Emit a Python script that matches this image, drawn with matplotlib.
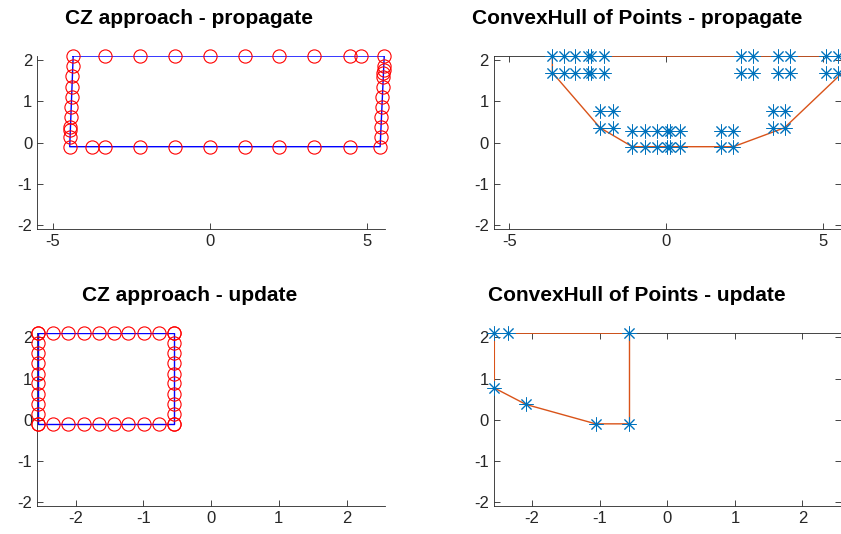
import numpy as np
import matplotlib
matplotlib.use("Agg")
import matplotlib.pyplot as plt

plt.rcParams['font.family'] = ['Liberation Sans', 'DejaVu Sans']
plt.rcParams['axes.unicode_minus'] = False

# CZ approach - propagate : rectangle and sample circles
cz_prop_rect_x = [-4.35, 5.54, 5.41, -4.46, -4.35]
cz_prop_rect_y = [2.1, 2.1, -0.1, -0.1, 2.1]
cz_prop_top_x = [-4.35, -3.34, -2.23, -1.11, 0.0, 1.11, 2.21, 3.32, 4.44, 4.81, 5.54]
cz_prop_bot_x = [-4.46, -3.74, -3.34, -2.23, -1.11, 0.0, 1.11, 2.21, 3.32, 4.44, 5.41]
cz_prop_left_y = [1.85, 1.61, 1.35, 1.1, 0.86, 0.62, 0.37, 0.30, 0.13]
cz_prop_right_y = [1.85, 1.76, 1.68, 1.59, 1.35, 1.1, 0.86, 0.62, 0.37, 0.13]

# ConvexHull of Points - propagate
hull_prop_pts_x = [-3.63, -3.25, -2.90, -2.50, -2.40, -1.98, 2.39, 2.78, 3.56, 3.93, 5.10, 5.47,
                   -3.63, -3.25, -2.90, -2.50, -2.40, -1.98, 2.39, 2.78, 3.56, 3.93, 5.10, 5.47,
                   -2.11, -1.69, 3.40, 3.77, -2.11, -1.69, 3.40, 3.77,
                   -1.08, -0.68, -0.28, 0.04, 0.12, 0.45, 1.75, 2.14,
                   -1.08, -0.68, -0.28, 0.04, 0.12, 0.45, 1.75, 2.14]
hull_prop_pts_y = [2.1] * 12 + [1.7] * 12 + [0.76] * 4 + [0.36] * 4 + [0.29] * 8 + [-0.1] * 8
hull_prop_x = [-3.63, -3.63, -2.11, -1.08, 2.14, 3.77, 5.62, 5.62, -3.63]
hull_prop_y = [2.1, 1.7, 0.36, -0.1, -0.1, 0.36, 1.7, 2.1, 2.1]

# CZ approach - update
cz_upd_rect_x = [-2.55, -0.55, -0.55, -2.55, -2.55]
cz_upd_rect_y = [2.1, 2.1, -0.1, -0.1, 2.1]
cz_upd_row_x = [-2.55, -2.33, -2.11, -1.88, -1.66, -1.44, -1.22, -0.99, -0.77, -0.55]
cz_upd_col_y = [2.1, 1.86, 1.61, 1.37, 1.12, 0.88, 0.63, 0.39, 0.14, -0.1]

# ConvexHull of Points - update
hull_upd_pts_x = [-2.56, -2.36, -0.56, -2.56, -2.09, -1.06, -0.56]
hull_upd_pts_y = [2.1, 2.1, 2.1, 0.77, 0.37, -0.1, -0.1]
hull_upd_x = [-2.56, -0.56, -0.56, -1.06, -2.09, -2.56, -2.56]
hull_upd_y = [2.1, 2.1, -0.1, -0.1, 0.37, 0.77, 2.1]

mblue = '#0072BD'
morange = '#D95319'
axcol = '#262626'
star = (8, 2, 0)

fig = plt.figure(figsize=(8.41, 5.34), dpi=100)
ax1 = fig.add_axes([0.044, 0.571, 0.414, 0.324])
ax2 = fig.add_axes([0.587, 0.571, 0.413, 0.324])
ax3 = fig.add_axes([0.044, 0.052, 0.414, 0.324])
ax4 = fig.add_axes([0.587, 0.052, 0.413, 0.324])


def style(ax, box, xticks, xlim, title, tx):
    ax.set_xlim(xlim)
    ax.set_ylim(-2.1, 2.1)
    ax.set_xticks(xticks)
    ax.set_yticks([-2, -1, 0, 1, 2])
    for s in ax.spines.values():
        s.set_color(axcol)
        s.set_linewidth(0.6)
    ax.spines['top'].set_visible(box)
    ax.spines['right'].set_visible(box)
    ax.tick_params(direction='in', length=4, width=0.6, color=axcol,
                   labelcolor=axcol, labelsize=12, top=box, right=box)
    ax.text(tx, 1.22, title, transform=ax.transAxes, ha='center', va='center',
            fontsize=15, fontweight='bold', color='black')


circ = dict(ls='none', marker='o', ms=9.5, mfc='none', mec='r', mew=0.8, clip_on=False, zorder=4)
stars = dict(ls='none', marker=star, ms=10, mec=mblue, mew=0.7, clip_on=False, zorder=4)

# top left
ax1.plot(cz_prop_rect_x, cz_prop_rect_y, color='b', lw=1, zorder=3)
ax1.plot(cz_prop_top_x, [2.1] * len(cz_prop_top_x), **circ)
ax1.plot(cz_prop_bot_x, [-0.1] * len(cz_prop_bot_x), **circ)
lx = np.interp(cz_prop_left_y, [-0.1, 2.1], [-4.46, -4.35])
rx = np.interp(cz_prop_right_y, [-0.1, 2.1], [5.41, 5.54])
ax1.plot(lx, cz_prop_left_y, **circ)
ax1.plot(rx, cz_prop_right_y, **circ)
style(ax1, False, [-5, 0, 5], (-5.5, 5.57), 'CZ approach - propagate', 0.437)

# top right
ax2.plot(hull_prop_pts_x, hull_prop_pts_y, **stars)
ax2.plot(hull_prop_x, hull_prop_y, color=morange, lw=1, zorder=3)
style(ax2, True, [-5, 0, 5], (-5.5, 5.57), 'ConvexHull of Points - propagate', 0.412)

# bottom left
ax3.plot(cz_upd_rect_x, cz_upd_rect_y, color='b', lw=1, zorder=3)
ax3.plot(cz_upd_row_x, [2.1] * 10, **circ)
ax3.plot(cz_upd_row_x, [-0.1] * 10, **circ)
ax3.plot([-2.55] * 10, cz_upd_col_y, **circ)
ax3.plot([-0.55] * 10, cz_upd_col_y, **circ)
style(ax3, False, [-2, -1, 0, 1, 2], (-2.57, 2.57), 'CZ approach - update', 0.437)

# bottom right
ax4.plot(hull_upd_pts_x, hull_upd_pts_y, **stars)
ax4.plot(hull_upd_x, hull_upd_y, color=morange, lw=1, zorder=3)
style(ax4, True, [-2, -1, 0, 1, 2], (-2.57, 2.57), 'ConvexHull of Points - update', 0.412)

fig.savefig('out.png', dpi=100)
